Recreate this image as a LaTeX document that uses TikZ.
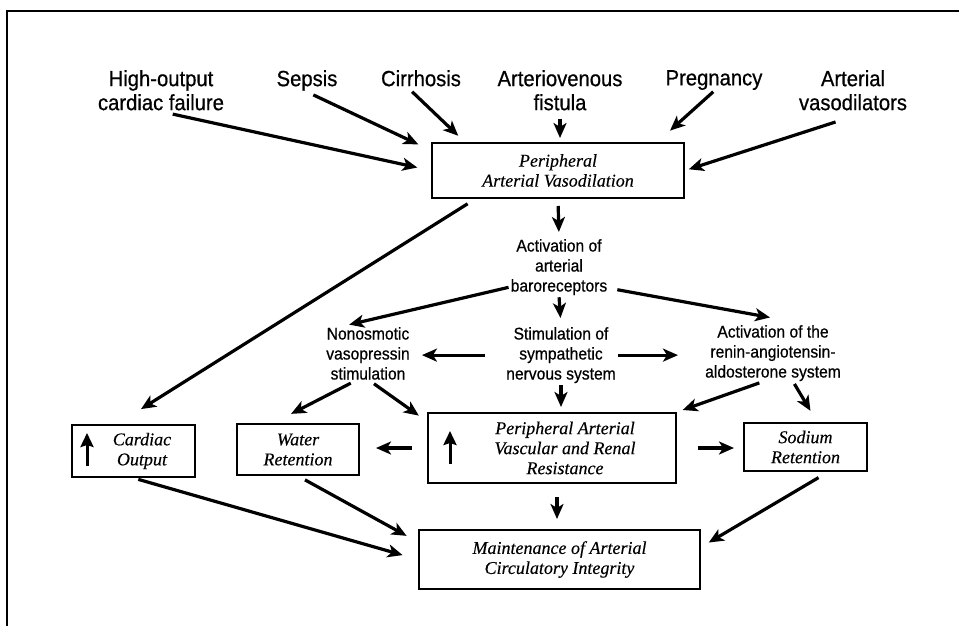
\documentclass[tikz,border=0pt]{standalone}
\usepackage{fontspec}
\setmainfont{Liberation Serif}[FakeBold=0.3]
\newfontfamily\labfont[FakeStretch=0.92,FakeBold=0.6]{Liberation Sans}
\usetikzlibrary{arrows.meta}

\begin{document}
\begin{tikzpicture}[x=1pt,y=1pt,yscale=-1,
        box/.style={draw, line width=2pt, inner sep=0pt, align=center, font=\fontsize{18}{20}\selectfont\itshape},
        cause/.style={anchor=north, inner sep=1pt, align=center, font=\labfont\fontsize{22}{24}\selectfont},
        reflex/.style={anchor=north, inner sep=1pt, align=center, font=\labfont\fontsize{17}{20}\selectfont},
        arr/.style={line width=3.2pt, -{Stealth[length=15pt,width=13pt,inset=4pt]}},
        uparr/.style={line width=3pt, -{Stealth[length=14pt,width=13pt,inset=2pt]}}]
        \useasboundingbox (0,0) rectangle (959,626);
        \draw [line width=1.8pt] (959,11) -- (7,11) -- (7,626);

        % causes
        \node [cause] (hof) at (161,69) {High-output\\cardiac failure};
        \node [cause] (sep) at (307,69) {Sepsis};
        \node [cause] (cir) at (421,69) {Cirrhosis};
        \node [cause] (avf) at (560,69) {Arteriovenous\\fistula};
        \node [cause] (preg) at (714,69) {Pregnancy};
        \node [cause] (vad) at (853,69) {Arterial\\vasodilators};

        \node [box, minimum width=252pt, minimum height=55pt] (pav) at (558,170.5) {Peripheral\\Arterial Vasodilation};

        % reflexes
        \node [reflex] (baro) at (559,238) {Activation of\\arterial\\baroreceptors};
        \node [reflex] (vaso) at (368,326) {Nonosmotic\\vasopressin\\stimulation};
        \node [reflex] (symp) at (561,326) {Stimulation of\\sympathetic\\nervous system};
        \node [reflex] (raas) at (773,324) {Activation of the\\renin-angiotensin-\\aldosterone system};

        % effects
        \node [box, minimum width=123pt, minimum height=52pt] (co) at (133.5,451) {\hspace*{17pt}Cardiac\\\hspace*{17pt}Output};
        \node [box, minimum width=122pt, minimum height=51pt] (wr) at (298,449.5) {Water\\Retention};
        \node [box, minimum width=248pt, minimum height=70pt] (pvr) at (552,448) {\hspace*{26pt}Peripheral Arterial\\\hspace*{26pt}Vascular and Renal\\\hspace*{26pt}Resistance};
        \node [box, minimum width=123pt, minimum height=48pt] (sr) at (805.5,447) {Sodium\\Retention};
        \node [box, minimum width=281pt, minimum height=59pt] (mac) at (559.5,559.5) {Maintenance of Arterial\\Circulatory Integrity};

        \draw [uparr] (87,466) -- (87,433);
        \draw [uparr] (450,464) -- (450,431);

        \draw [arr, shorten <=12pt, shorten >=14pt] (hof.south) -- (pav.west);
        \draw [arr, shorten <=7pt, shorten >=14pt] (sep.south) -- (pav.171);
        \draw [arr, shorten <=6pt, shorten >=9pt] (cir.-145) -- (pav.163);
        \draw [arr, shorten <=7pt, shorten >=4pt] (avf.south) -- (avf.south |- pav.north);
        \draw [arr, shorten <=1pt, shorten >=17pt] (preg.south) -- (pav.16);
        \draw [arr, shorten <=34pt, shorten >=4pt] (vad.-55) -- (pav.east);

        \draw [arr, shorten <=7pt, shorten >=6pt] (pav.south) -- (baro.north);
        \draw [arr, shorten <=9pt, shorten >=28pt] (pav.-161) -- (co.121);
        \draw [arr, shorten <=1pt, shorten >=6pt] (baro.-158) -- (vaso.132);
        \draw [arr, shorten <=9pt, shorten >=3pt] (baro.-23) -- ([yshift=-6pt]raas.north);
        \draw [arr, shorten <=1pt, shorten >=8pt] (baro.south) -- (symp.north);
        \draw [arr, shorten <=20pt, shorten >=11pt] (symp.west) -- (symp.west -| vaso.east);
        \draw [arr, shorten <=1pt, shorten >=26pt] (symp.east) -- (symp.east -| raas.west);
        \draw [arr, shorten <=1pt, shorten >=5pt] (symp.south) -- (symp.south |- pvr.north);

        \draw [arr, shorten <=5pt, shorten >=20pt] (vaso.-115) -- (wr.133);
        \draw [arr, shorten <=5pt, shorten >=10pt] (vaso.-86) -- (pvr.168);
        \draw [arr, shorten <=2pt, shorten >=6pt] (raas.-112) -- (pvr.north east);
        \draw [arr, shorten <=2pt, shorten >=13pt] (raas.-55) -- (sr.65);
        \draw [arr, shorten <=15pt, shorten >=16pt] (pvr.west) -- (pvr.west -| wr.east);
        \draw [arr, shorten <=21pt, shorten >=9pt] (pvr.east) -- (pvr.east -| sr.west);

        \draw [arr, shorten <=13pt, shorten >=10pt] ([xshift=5pt]pvr.south) -- ([xshift=5pt]pvr.south |- mac.north);
        \draw [arr, shorten <=5pt, shorten >=16pt] (co.south) -- (mac.west);
        \draw [arr, shorten <=8pt, shorten >=13pt] (wr.south) -- (mac.173);
        \draw [arr, shorten <=11pt, shorten >=9pt] (sr.-48) -- (mac.5);
\end{tikzpicture}
\end{document}
